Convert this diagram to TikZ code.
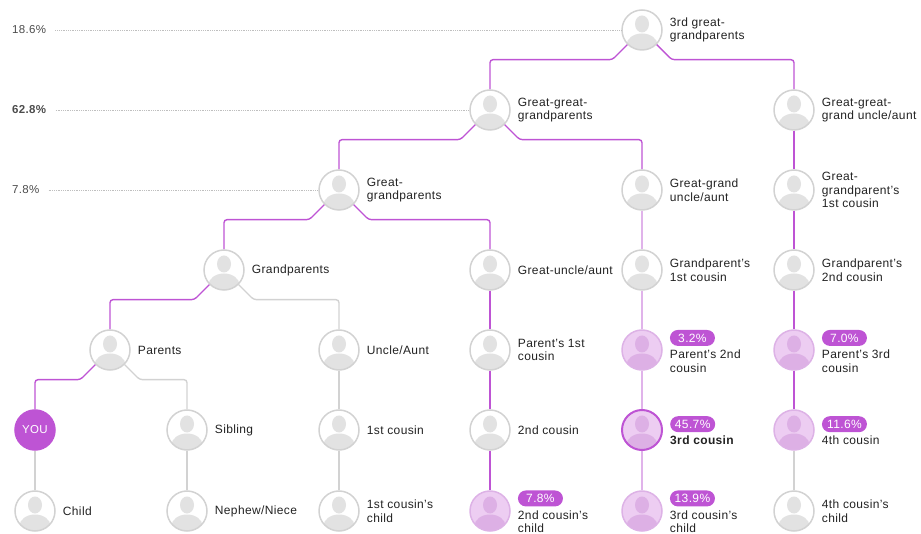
\documentclass[tikz,border=0pt]{standalone}
\usepackage{fontspec}
\setmainfont{Liberation Sans}[LetterSpace=3]
\definecolor{plum}{HTML}{BE54D4}
\definecolor{lilac}{HTML}{E0B3EA}
\definecolor{mist}{HTML}{EDCDF2}
\definecolor{ringp}{HTML}{DDB2E6}
\definecolor{headlilac}{HTML}{DDB0E5}
\definecolor{ring}{HTML}{D2D2D2}
\definecolor{headgray}{HTML}{E2E2E2}
\definecolor{ink}{HTML}{222222}
\newcommand{\avatarfig}[1]{%
  \fill [#1] ([yshift=6pt]path picture bounding box.center) ellipse (7pt and 8.5pt);
  \fill [#1] ([yshift=-15pt]path picture bounding box.center) ellipse (15.5pt and 11.5pt);}
\tikzset{
  person/.style={circle, minimum size=40pt, inner sep=0pt, draw=ring, line width=1.5pt,
    fill=white, path picture={\avatarfig{headgray}}},
  match/.style={person, fill=mist, draw=ringp, path picture={\avatarfig{headlilac}}},
  closest/.style={match, draw=plum, line width=2pt},
  you/.style={circle, minimum size=40pt, inner sep=0pt, draw=plum, line width=1.5pt,
    fill=plum, text=white, font=\fontsize{11.5}{13}\selectfont},
  lbl/.style={anchor=west, align=left, inner sep=0pt, text=ink,
    font=\fontsize{12}{13.5}\selectfont},
  badge/.style={anchor=south west, fill=plum, text=white, rounded corners=8pt,
    minimum width=45pt, minimum height=16pt, inner sep=0pt,
    font=\fontsize{12}{13.5}\selectfont},
  pct/.style={anchor=west, inner sep=4pt, text=black!70,
    font=\fontsize{11.5}{13.5}\selectfont},
  guide/.style={black!25, line width=0.6pt, dash pattern=on 0.8pt off 1pt},
  link/.style={plum, line width=1.4pt, rounded corners=3pt},
  faint/.style={lilac, line width=1.4pt, rounded corners=3pt},
  plain/.style={ring, line width=1.4pt, rounded corners=3pt}
}
\begin{document}
\begin{tikzpicture}[x=1pt, y=-1pt]
    \useasboundingbox (0,0) rectangle (921,534);
    \node (gg3) at (642,30) [person] {};
    \node (gg2) at (490,110) [person] {};
    \node (gg2ua) at (794,110) [person] {};
    \node (gg1) at (339,190) [person] {};
    \node (ggua) at (642,190) [person] {};
    \node (ggp1c) at (794,190) [person] {};
    \node (gp) at (224,270) [person] {};
    \node (gua) at (490,270) [person] {};
    \node (gp1c) at (642,270) [person] {};
    \node (gp2c) at (794,270) [person] {};
    \node (par) at (110,350) [person] {};
    \node (ua) at (339,350) [person] {};
    \node (p1c) at (490,350) [person] {};
    \node (p2c) at (642,350) [match] {};
    \node (p3c) at (794,350) [match] {};
    \node (you) at (35,430) [you] {YOU};
    \node (sib) at (187,430) [person] {};
    \node (c1) at (339,430) [person] {};
    \node (c2) at (490,430) [person] {};
    \node (c3) at (642,430) [closest] {};
    \node (c4) at (794,430) [match] {};
    \node (child) at (35,511) [person] {};
    \node (neph) at (187,511) [person] {};
    \node (c1ch) at (339,511) [person] {};
    \node (c2ch) at (490,511) [match] {};
    \node (c3ch) at (642,511) [match] {};
    \node (c4ch) at (794,511) [person] {};

    \node (gg3l) at ([xshift=7pt]gg3.east) [lbl] {3rd great-\\grandparents};
    \node (gg2l) at ([xshift=7pt]gg2.east) [lbl] {Great-great-\\grandparents};
    \node (gg2ual) at ([xshift=7pt]gg2ua.east) [lbl] {Great-great-\\grand uncle/aunt};
    \node (gg1l) at ([xshift=7pt]gg1.east) [lbl] {Great-\\grandparents};
    \node (ggual) at ([xshift=7pt]ggua.east) [lbl] {Great-grand\\uncle/aunt};
    \node (ggp1cl) at ([xshift=7pt]ggp1c.east) [lbl] {Great-\\grandparent's\\1st cousin};
    \node (gpl) at ([xshift=7pt]gp.east) [lbl] {Grandparents};
    \node (gual) at ([xshift=7pt]gua.east) [lbl] {Great-uncle/aunt};
    \node (gp1cl) at ([xshift=7pt]gp1c.east) [lbl] {Grandparent's\\1st cousin};
    \node (gp2cl) at ([xshift=7pt]gp2c.east) [lbl] {Grandparent's\\2nd cousin};
    \node (parl) at ([xshift=7pt]par.east) [lbl] {Parents};
    \node (ual) at ([xshift=7pt]ua.east) [lbl] {Uncle/Aunt};
    \node (p1cl) at ([xshift=7pt]p1c.east) [lbl] {Parent's 1st\\cousin};
    \node (p2cl) at ([xshift=7pt,yshift=-11pt]p2c.east) [lbl] {Parent's 2nd\\cousin};
    \node (p3cl) at ([xshift=7pt,yshift=-11pt]p3c.east) [lbl] {Parent's 3rd\\cousin};
    \node (sibl) at ([xshift=7pt]sib.east) [lbl] {Sibling};
    \node (c1l) at ([xshift=7pt]c1.east) [lbl] {1st cousin};
    \node (c2l) at ([xshift=7pt]c2.east) [lbl] {2nd cousin};
    \node (c3l) at ([xshift=7pt,yshift=-10pt]c3.east) [lbl] {\textbf{3rd cousin}};
    \node (c4l) at ([xshift=7pt,yshift=-10pt]c4.east) [lbl] {4th cousin};
    \node (childl) at ([xshift=7pt]child.east) [lbl] {Child};
    \node (nephl) at ([xshift=7pt]neph.east) [lbl] {Nephew/Niece};
    \node (c1chl) at ([xshift=7pt]c1ch.east) [lbl] {1st cousin's\\child};
    \node (c2chl) at ([xshift=7pt,yshift=-10.5pt]c2ch.east) [lbl] {2nd cousin's\\child};
    \node (c3chl) at ([xshift=7pt,yshift=-10.5pt]c3ch.east) [lbl] {3rd cousin's\\child};
    \node (c4chl) at ([xshift=7pt]c4ch.east) [lbl] {4th cousin's\\child};

    \node (p2cb) at ([yshift=3.5pt]p2cl.north west) [badge] {3.2\%};
    \node (p3cb) at ([yshift=3.5pt]p3cl.north west) [badge] {7.0\%};
    \node (c3b) at ([yshift=3pt]c3l.north west) [badge] {45.7\%};
    \node (c4b) at ([yshift=3pt]c4l.north west) [badge] {11.6\%};
    \node (c2chb) at ([yshift=3.5pt]c2chl.north west) [badge] {7.8\%};
    \node (c3chb) at ([yshift=3.5pt]c3chl.north west) [badge] {13.9\%};

    \node (lv3) at (8,30) [pct] {18.6\%};
    \node (lv2) at (8,110) [pct] {\textbf{62.8\%}};
    \node (lv1) at (8,190) [pct] {7.8\%};
    \draw [guide] ([xshift=5pt]lv3.east) -- (gg3.west);
    \draw [guide] ([xshift=5pt]lv2.east) -- (gg2.west);
    \draw [guide] ([xshift=5pt]lv1.east) -- (gg1.west);

    \draw [link] (gg3.south west) -- ++(-15pt,-15pt) -| (gg2.north);
    \draw [link] (gg3.south east) -- ++(15pt,-15pt) -| (gg2ua.north);
    \draw [link] (gg2.south west) -- ++(-15pt,-15pt) -| (gg1.north);
    \draw [link] (gg2.south east) -- ++(15pt,-15pt) -| (ggua.north);
    \draw [link] (gg1.south west) -- ++(-15pt,-15pt) -| (gp.north);
    \draw [link] (gg1.south east) -- ++(15pt,-15pt) -| (gua.north);
    \draw [link] (gp.south west) -- ++(-15pt,-15pt) -| (par.north);
    \draw [plain] (gp.south east) -- ++(15pt,-15pt) -| (ua.north);
    \draw [link] (par.south west) -- ++(-15pt,-15pt) -| (you.north);
    \draw [plain] (par.south east) -- ++(15pt,-15pt) -| (sib.north);
    \foreach \a/\b in {gg2ua/ggp1c, ggp1c/gp2c, gp2c/p3c, p3c/c4, gua/p1c, p1c/c2, c2/c2ch}
        \draw [link] (\a.south) -- (\b.north);
    \foreach \a/\b in {ggua/gp1c, gp1c/p2c, p2c/c3, c3/c3ch}
        \draw [faint] (\a.south) -- (\b.north);
    \foreach \a/\b in {ua/c1, c1/c1ch, you/child, sib/neph, c4/c4ch}
        \draw [plain] (\a.south) -- (\b.north);
\end{tikzpicture}
\end{document}
